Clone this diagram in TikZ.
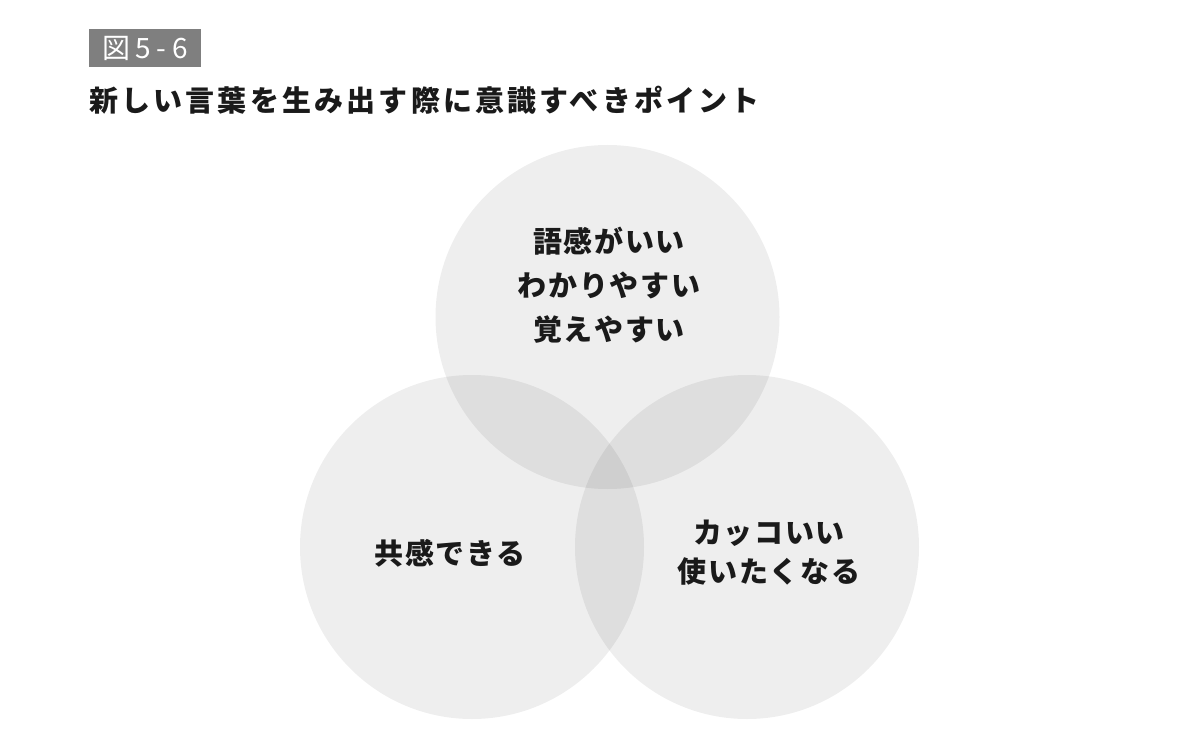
\documentclass[tikz,border=0pt]{standalone}
\usepackage{fontspec}
\newfontfamily\jp{Noto Sans CJK JP}
\newfontfamily\jpsp[LetterSpace=11]{Noto Sans CJK JP}
\newfontfamily\jpbody[LetterSpace=6]{Noto Sans CJK JP}
\definecolor{boxgray}{HTML}{7F7F7F}
\definecolor{ink}{HTML}{1A1A1A}
\tikzset{
  venn/.style={circle, fill=black, fill opacity=0.065, draw=none, minimum size=344pt, inner sep=0pt},
  label/.style={text=ink, align=center, font=\jpbody\bfseries\fontsize{29}{44}\selectfont},
  tag/.style={fill=boxgray, text=white, minimum width=112pt, minimum height=38pt, inner sep=0pt, font=\jp\fontsize{28}{28}\selectfont},
  heading/.style={anchor=west, text=ink, inner sep=0pt, font=\jpsp\bfseries\fontsize{29}{29}\selectfont}
}
\begin{document}
\begin{tikzpicture}[x=1pt,y=-1pt]
\useasboundingbox (0,0) rectangle (1200,741);
\fill[white] (0,0) rectangle (1200,741);
\node[tag] (fig) at (145,48) {図\hspace{5pt}5\hspace{6pt}-\hspace{6pt}6};
\node[heading] (title) at (89,100) {新しい言葉を生み出す際に意識すべきポイント};
\node[venn] (ctop) at (607.5,317) {};
\node[venn] (cleft) at (472,547) {};
\node[venn] (cright) at (747,547) {};
\node[label] (ttop) at (609,285) {語感がいい\\わかりやすい\\覚えやすい};
\node[label] (tleft) at (450,553) {共感できる};
\node[label, font=\jpbody\bfseries\fontsize{29}{39}\selectfont] (tright) at (769,553) {カッコいい\\使いたくなる};
\end{tikzpicture}
\end{document}
